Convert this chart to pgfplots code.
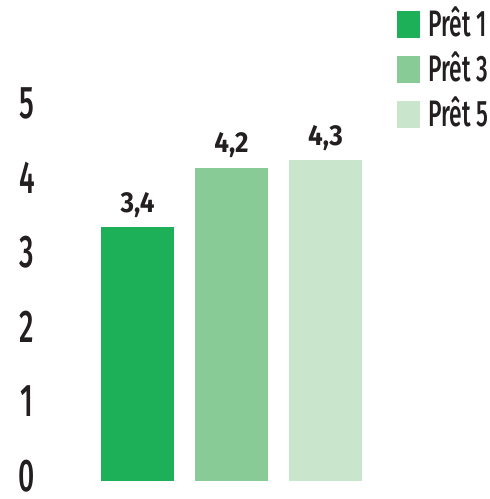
\documentclass[border=0pt]{standalone}
\usepackage{fontspec}
\setmainfont{Fira Sans}
\newfontfamily\tickfont{Fira Sans}[UprightFont=* Medium, FakeStretch=0.62]
\newfontfamily\valfont{Fira Sans}[UprightFont=* Bold, FakeStretch=0.9]
\usepackage{pgfplots}
\pgfplotsset{compat=1.18}
\definecolor{pretA}{HTML}{1DB058}
\definecolor{pretB}{HTML}{88CB96}
\definecolor{pretC}{HTML}{C9E5CC}
\definecolor{txt}{HTML}{231F20}
\begin{document}
\begin{tikzpicture}
\useasboundingbox (0,0) rectangle (490bp,499bp);
\begin{axis}[
    at={(90.5bp,18bp)}, anchor=south west,
    scale only axis, width=282bp, height=373bp,
    xmin=0.5, xmax=3.5, ymin=0, ymax=5,
    axis line style={draw=none},
    xtick=\empty, ytick={0,1,2,3,4,5},
    major tick length=0pt,
    /pgf/number format/assume math mode=true,
    /pgf/number format/use comma,
    yticklabel style={font=\tickfont\fontsize{46}{46}\selectfont, text=txt,
        anchor=center, inner sep=0pt, xshift=-63.5bp, yshift=5bp},
    ybar, bar width=73bp,
    nodes near coords,
    nodes near coords style={font=\valfont\fontsize{29}{29}\selectfont, text=txt,
        anchor=base, yshift=15bp, inner sep=0pt},
    legend image code/.code={\fill[#1] (0bp,-11.5bp) rectangle (23bp,15bp);},
    legend cell align=left,
    legend style={at={(1.076,1.265)}, anchor=north west, draw=none, fill=none,
        text=txt, row sep=16bp, column sep=8bp,
        nodes={inner sep=0pt, text height=24bp, text depth=4bp,
            font=\tickfont\fontsize{37}{37}\selectfont}},
]
\addplot[fill=pretA, draw=none, bar shift=0pt] coordinates {(1,3.4)};
\addplot[fill=pretB, draw=none, bar shift=0pt] coordinates {(2,4.2)};
\addplot[fill=pretC, draw=none, bar shift=0pt] coordinates {(3,4.3)};
\legend{Prêt 1, Prêt 3, Prêt 5}
\end{axis}
\end{tikzpicture}
\end{document}
